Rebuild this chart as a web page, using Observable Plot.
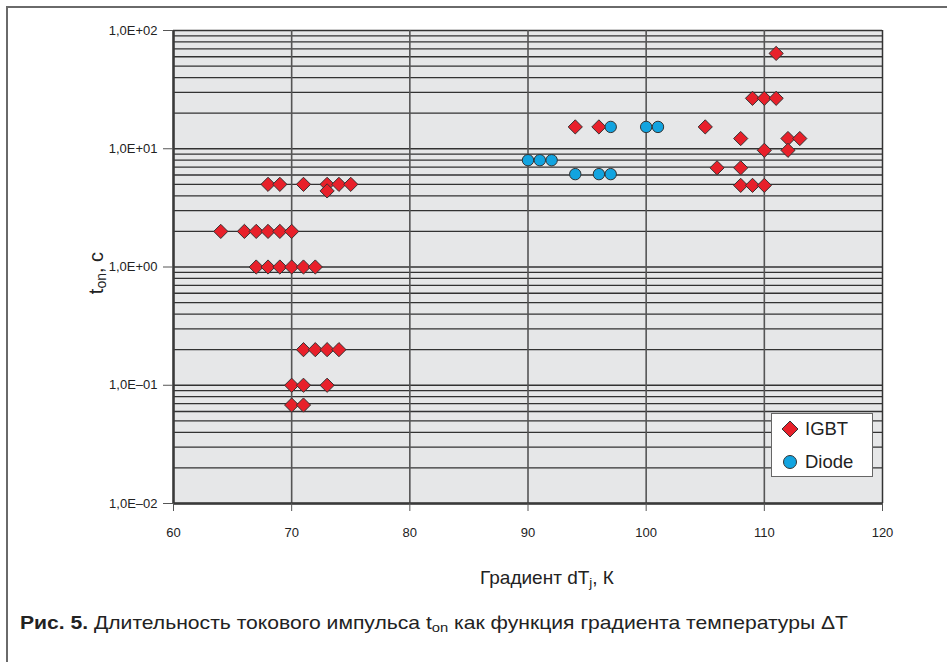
<!DOCTYPE html>
<html>
<head>
<meta charset="utf-8">
<script src="https://cdn.jsdelivr.net/npm/d3@7"></script>
<script src="https://cdn.jsdelivr.net/npm/@observablehq/plot@0.6"></script>
<style>
  body { margin: 0; background: #fff; }
  #fig { position: relative; width: 947px; height: 662px; background: #fff; overflow: hidden; font-family: "Liberation Sans", Arial, sans-serif; color: #222; }
  #frame { position: absolute; left: 6px; top: 6px; width: 960px; height: 700px; border-left: 2px solid #6a6a6a; border-top: 2px solid #6a6a6a; }
  #chart { position: absolute; left: 0; top: 0; }
  .ytitle { position: absolute; left: 96px; top: 273px; transform: translate(-50%, -50%) rotate(-90deg); font-size: 20px; white-space: nowrap; }
  .xtitle { position: absolute; left: 547px; top: 578px; transform: translate(-50%, -50%); font-size: 19px; white-space: nowrap; }
  .caption { position: absolute; left: 20px; top: 612px; font-size: 19px; white-space: nowrap; color: #222; transform-origin: 0 50%; }
  .caption b { font-weight: bold; }
  sub { font-size: 70%; vertical-align: -0.25em; line-height: 0; }
  #legend { position: absolute; left: 771px; top: 413px; width: 102px; height: 64px; background: #fff; border: 1px solid #666; box-sizing: border-box; font-size: 18.5px; }
  #legend .row { position: absolute; left: 8px; display: flex; align-items: center; gap: 5px; }
</style>
</head>
<body>
<div id="fig">
  <div id="frame"></div>
  <div id="chart"></div>
  <div class="ytitle">t<sub>on</sub>, c</div>
  <div class="xtitle">Градиент dT<sub>j</sub>, К</div>
  <div class="caption" id="caption"><b>Рис. 5.</b> Длительность токового импульса t<sub>on</sub> как функция градиента температуры ΔT</div>
  <div id="legend"></div>
</div>
<script>
// ---- data ----
const seriesNames = ["IGBT", "Diode"];
const igbtX = [68, 69, 71, 73, 74, 75, 73,
               64, 66, 67, 68, 69, 70,
               67, 68, 69, 70, 71, 72,
               71, 72, 73, 74,
               70, 71, 73,
               70, 71,
               94, 96,
               111,
               109, 110, 111,
               105,
               108, 112, 113,
               110, 112,
               106, 108,
               108, 109, 110];
const igbtY = [5, 5, 5, 5, 5, 5, 4.4,
               2, 2, 2, 2, 2, 2,
               1, 1, 1, 1, 1, 1,
               0.2, 0.2, 0.2, 0.2,
               0.1, 0.1, 0.1,
               0.068, 0.068,
               15.3, 15.3,
               64,
               26.7, 26.7, 26.7,
               15.3,
               12.2, 12.2, 12.2,
               9.7, 9.7,
               6.9, 6.9,
               4.9, 4.9, 4.9];
const diodeX = [97, 100, 101, 90, 91, 92, 94, 96, 97];
const diodeY = [15.3, 15.3, 15.3, 8, 8, 8, 6.1, 6.1, 6.1];

// ---- ticks ----
const xTicks = [60, 70, 80, 90, 100, 110, 120];
const xGrid = [70, 80, 90, 100, 110];
const yTicks = [0.01, 0.1, 1, 10, 100];
const yTickLabels = ["1,0E–02", "1,0E–01", "1,0E+00", "1,0E+01", "1,0E+02"];
const yMinorMultipliers = [1, 2, 3, 4, 5, 6, 7, 8, 9];

const igbt = igbtX.map((x, i) => ({x, y: igbtY[i]}));
const diode = diodeX.map((x, i) => ({x, y: diodeY[i]}));
const yGrid = [];
yTicks.slice(0, -1).forEach(d => yMinorMultipliers.forEach(m => yGrid.push(d * m)));
yGrid.push(100);

const red = "#e8202a", blue = "#12a4e0";

const chart = Plot.plot({
  width: 947,
  height: 560,
  marginLeft: 173,
  marginRight: 65,
  marginTop: 30,
  marginBottom: 57,
  style: {fontFamily: "Liberation Sans, Arial, sans-serif", fontSize: "13px", color: "#222", background: "transparent"},
  x: {domain: [60, 120]},
  y: {type: "log", domain: [0.01, 100]},
  marks: [
    Plot.frame({fill: "#e6e7e8", stroke: null}),
    Plot.ruleY(yGrid, {stroke: "#1e1e1e", strokeWidth: 1.3, strokeOpacity: 0.9}),
    Plot.ruleX(xGrid, {stroke: "#555", strokeWidth: 1.6}),
    Plot.ruleX([120], {stroke: "#333", strokeWidth: 1.5}),
    Plot.ruleX([60], {stroke: "#3a3a3a", strokeWidth: 2.6}),
    Plot.ruleY([0.01], {stroke: "#3a3a3a", strokeWidth: 2.6}),
    Plot.axisY({ticks: yTicks, tickFormat: d => yTickLabels[yTicks.indexOf(d)], tickSize: 10, tickPadding: 6, label: null, stroke: "#555"}),
    Plot.axisX({ticks: xTicks, tickSize: 8, tickPadding: 16, label: null, stroke: "#555"}),
    Plot.dot(igbt, {x: "x", y: "y", symbol: "diamond2", r: 6.4, fill: red, stroke: "#333", strokeWidth: 1}),
    Plot.dot(diode, {x: "x", y: "y", symbol: "circle", r: 5.7, fill: blue, stroke: "#333", strokeWidth: 1})
  ]
});
document.getElementById("chart").appendChild(chart);

// fit caption to the reference's span (x 20 → 848), condensed look
const cap = document.getElementById("caption");
const w = cap.getBoundingClientRect().width;
cap.style.transform = `scaleX(${(828 / w).toFixed(3)})`;

// legend
const legend = document.getElementById("legend");
const symbols = {
  IGBT: `<svg width="20" height="20"><path d="M10,2L18,10L10,18L2,10Z" fill="${red}" stroke="#333"/></svg>`,
  Diode: `<svg width="20" height="20"><circle cx="10" cy="10" r="6.5" fill="${blue}" stroke="#333"/></svg>`
};
seriesNames.forEach((name, i) => {
  const row = document.createElement("div");
  row.className = "row";
  row.style.top = (i === 0 ? 4 : 37) + "px";
  row.innerHTML = symbols[name] + `<span>${name}</span>`;
  legend.appendChild(row);
});
</script>
</body>
</html>
